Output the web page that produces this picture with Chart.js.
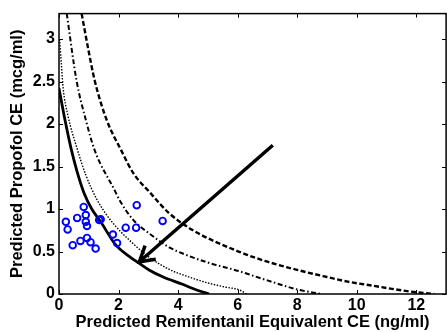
<!DOCTYPE html>
<html>
<head>
<meta charset="utf-8">
<script src="https://cdn.jsdelivr.net/npm/chart.js@4/dist/chart.umd.min.js"></script>
<style>
html,body{margin:0;padding:0;overflow:hidden;background:#fff;}
#wrap{width:452px;height:332px;}
</style>
</head>
<body>
<div id="wrap"><canvas id="c" width="452" height="332"></canvas></div>
<script>
// ---- data ----
const xTicks = [0, 2, 4, 6, 8, 10, 12];
const yTicks = [0, 0.5, 1, 1.5, 2, 2.5, 3];

const obsX = [0.23, 0.29, 0.46, 0.61, 0.72, 0.83, 0.90, 0.90, 0.94, 0.94, 1.06, 1.23, 1.35, 1.40, 1.81, 1.95, 2.24, 2.59, 2.61, 3.48];
const obsY = [0.85, 0.76, 0.575, 0.895, 0.625, 1.025, 0.93, 0.85, 0.80, 0.66, 0.61, 0.535, 0.87, 0.88, 0.70, 0.60, 0.78, 0.78, 1.045, 0.86];

const solidX = [0, 0.2, 0.4, 0.6, 0.85, 1.1, 1.4, 1.9, 2.4, 2.7, 3.04, 3.5, 4.15, 4.6, 5.04];
const solidY = [2.42, 2.05, 1.72, 1.45, 1.18, 1.0, 0.85, 0.58, 0.43, 0.36, 0.28, 0.2, 0.115, 0.05, 0];

const dotX = [0.02, 0.08, 0.14, 0.3, 0.6, 0.9, 1.26, 1.6, 2.0, 2.5, 3.04, 3.7, 4.2, 5.0, 5.6, 6.04, 6.3];
const dotY = [3.0, 2.7, 2.42, 2.1, 1.72, 1.4, 1.12, 0.93, 0.76, 0.59, 0.43, 0.29, 0.22, 0.13, 0.08, 0.05, 0];

const dashDotX = [0.26, 0.59, 0.9, 1.2, 1.87, 2.04, 2.5, 3.04, 3.7, 4.2, 5.0, 6.03, 7.0, 8.04, 8.8];
const dashDotY = [3.3, 2.51, 2.05, 1.69, 1.22, 1.1, 0.87, 0.71, 0.55, 0.47, 0.37, 0.27, 0.16, 0.05, 0];

const dashX = [0.76, 1.0, 1.2, 1.6, 2.09, 2.5, 3.04, 3.7, 4.5, 6.03, 7.0, 8.04, 9.0, 9.7, 10.5, 11.37, 12.0, 12.6];
const dashY = [3.3, 2.85, 2.51, 2.05, 1.69, 1.42, 1.2, 0.95, 0.75, 0.5, 0.38, 0.28, 0.2, 0.145, 0.1, 0.05, 0.02, 0];

const arrowShaftX = [7.18, 2.70];
const arrowShaftY = [1.75, 0.38];
const arrowHeadX = [3.25, 2.70, 2.89];
const arrowHeadY = [0.41, 0.38, 0.57];

// ---- build ----
const pts = (xs, ys) => xs.map((x, i) => ({x: x, y: ys[i]}));
const FONT = '"Liberation Sans", Arial, Helvetica, sans-serif';

const curve = (xs, ys, w, dash) => ({
  data: pts(xs, ys), showLine: true, borderColor: '#000', borderWidth: w,
  borderDash: dash, pointRadius: 0, fill: false, cubicInterpolationMode: 'monotone'
});

const boxPlugin = {
  id: 'box',
  afterDatasetsDraw(chart) {
    const {ctx, chartArea: a, scales: {x, y}} = chart;
    ctx.save();
    ctx.strokeStyle = '#000';
    ctx.lineWidth = 1;
    const tl = 4;
    xTicks.forEach(v => {
      const px = Math.round(x.getPixelForValue(v)) + 0.5;
      ctx.beginPath(); ctx.moveTo(px, a.bottom); ctx.lineTo(px, a.bottom - tl); ctx.stroke();
      ctx.beginPath(); ctx.moveTo(px, a.top); ctx.lineTo(px, a.top + tl); ctx.stroke();
    });
    yTicks.forEach(v => {
      const py = Math.round(y.getPixelForValue(v)) + 0.5;
      ctx.beginPath(); ctx.moveTo(a.left, py); ctx.lineTo(a.left + tl, py); ctx.stroke();
      ctx.beginPath(); ctx.moveTo(a.right, py); ctx.lineTo(a.right - tl, py); ctx.stroke();
    });
    ctx.lineWidth = 1.5;
    ctx.strokeRect(a.left, a.top, a.right - a.left, a.bottom - a.top);
    ctx.restore();
  }
};

new Chart(document.getElementById('c'), {
  type: 'scatter',
  data: {
    datasets: [
      {data: pts(obsX, obsY), showLine: false, pointStyle: 'circle', pointRadius: 3.3,
       pointBorderWidth: 1.9, pointBorderColor: '#0000ff', pointBackgroundColor: 'rgba(0,0,0,0)'},
      {data: pts(arrowHeadX, arrowHeadY), showLine: true, borderColor: '#000', borderWidth: 3.5,
       pointRadius: 0, borderJoinStyle: 'miter', borderCapStyle: 'butt'},
      {data: pts(arrowShaftX, arrowShaftY), showLine: true, borderColor: '#000', borderWidth: 3.5,
       pointRadius: 0},
      curve(solidX, solidY, 2.8, []),
      curve(dotX, dotY, 1.4, [1.5, 1.5]),
      curve(dashDotX, dashDotY, 2, [5, 2.5, 1.5, 2.5]),
      curve(dashX, dashY, 2.4, [5, 2.5])
    ]
  },
  options: {
    responsive: false,
    animation: false,
    events: [],
    layout: {padding: {top: 13, right: 3, left: 0, bottom: 0}},
    plugins: {legend: {display: false}, tooltip: {enabled: false}},
    scales: {
      x: {
        type: 'linear', min: 0, max: 13,
        grid: {display: false, drawTicks: false},
        border: {display: false},
        afterBuildTicks: s => { s.ticks = xTicks.map(v => ({value: v})); },
        afterFit: s => { s.height = 38; },
        ticks: {color: '#000', padding: 2, maxRotation: 0, autoSkip: false,
                callback: v => String(+v),
                font: {family: FONT, size: 16, weight: 'bold'}},
        title: {display: true, text: 'Predicted Remifentanil Equivalent CE (ng/ml)', color: '#000',
                padding: {top: 0, bottom: 0}, font: {family: FONT, size: 16.5, weight: 'bold'}}
      },
      y: {
        type: 'linear', min: 0, max: 3.3,
        grid: {display: false, drawTicks: false},
        border: {display: false},
        afterBuildTicks: s => { s.ticks = yTicks.map(v => ({value: v})); },
        afterFit: s => { s.width = 59; },
        ticks: {color: '#000', padding: 4, autoSkip: false,
                callback: v => String(+v),
                font: {family: FONT, size: 16, weight: 'bold'}},
        title: {display: true, text: 'Predicted Propofol CE (mcg/ml)', color: '#000',
                padding: {top: 8, bottom: 0}, font: {family: FONT, size: 16.5, weight: 'bold'}}
      }
    }
  },
  plugins: [boxPlugin]
});
</script>
</body>
</html>
